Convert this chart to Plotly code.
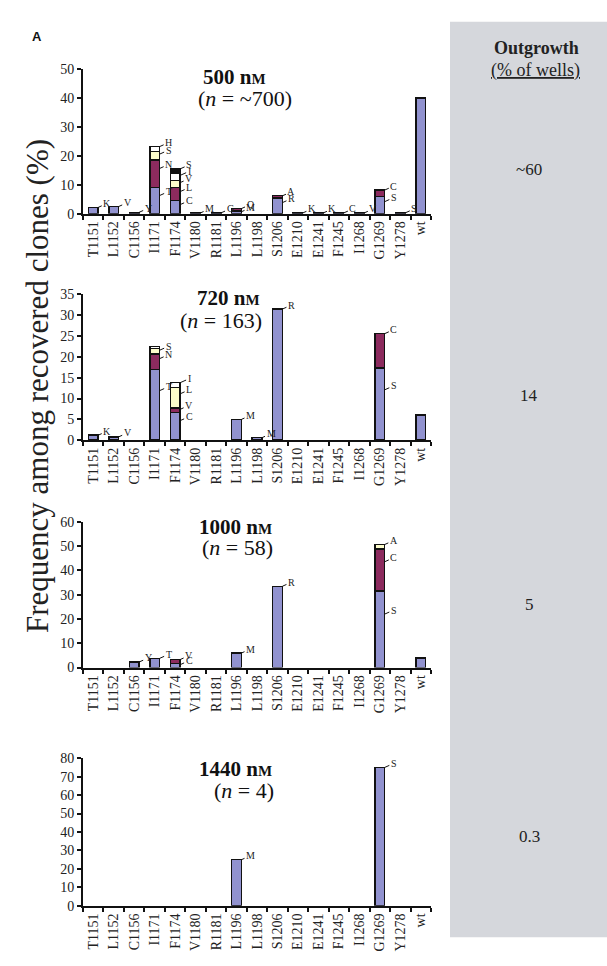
import plotly.graph_objects as go

# ---------------- data ----------------
categories = ["T1151", "L1152", "C1156", "I1171", "F1174", "V1180", "R1181", "L1196",
              "L1198", "S1206", "E1210", "E1241", "F1245", "I1268", "G1269", "Y1278", "wt"]

panel_titles = ["500 n<span style='font-size:15px'>M</span>",
                "720 n<span style='font-size:15px'>M</span>",
                "1000 n<span style='font-size:15px'>M</span>",
                "1440 n<span style='font-size:15px'>M</span>"]
panel_counts = ["(<i>n</i> = ~700)", "(<i>n</i> = 163)", "(<i>n</i> = 58)", "(<i>n</i> = 4)"]
outgrowth = ["~60", "14", "5", "0.3"]
y_max = [50, 35, 60, 80]
y_step = [10, 5, 10, 10]

N = None
# stack layers per panel (bottom -> top); values in % of recovered clones
p500_l0 = [2.2, 2.5, 0.5, 9.0, 4.5, 0.3, 0.3, 1.0, N, 5.5, 0.3, 0.3, 0.3, 0.3, 6.0, 0.3, 40.0]
p500_l0_lab = ["K", "V", "Y", "T", "C", "M", "G", "M", "", "R", "K", "K", "C", "V", "S", "S", ""]
p500_l1 = [N, N, N, 9.5, 4.5, N, N, 0.8, N, 0.7, N, N, N, N, 2.2, N, N]
p500_l1_lab = ["", "", "", "N", "L", "", "", "Q", "", "A", "", "", "", "", "C", "", ""]
p500_l2 = [N, N, N, 3.0, 2.5, N, N, N, N, N, N, N, N, N, N, N, N]
p500_l2_lab = ["", "", "", "S", "V", "", "", "", "", "", "", "", "", "", "", "", ""]
p500_l3 = [N, N, N, 1.7, 2.5, N, N, N, N, N, N, N, N, N, N, N, N]
p500_l3_lab = ["", "", "", "H", "I", "", "", "", "", "", "", "", "", "", "", "", ""]
p500_l4 = [N, N, N, N, 1.5, N, N, N, N, N, N, N, N, N, N, N, N]
p500_l4_lab = ["", "", "", "", "S", "", "", "", "", "", "", "", "", "", "", "", ""]

p720_l0 = [1.2, 0.8, N, 17.0, 6.7, N, N, 5.0, 0.6, 31.5, N, N, N, N, 17.3, N, 6.0]
p720_l0_lab = ["K", "V", "", "T", "C", "", "", "M", "M", "R", "", "", "", "", "S", "", ""]
p720_l1 = [N, N, N, 3.7, 1.0, N, N, N, N, N, N, N, N, N, 8.3, N, N]
p720_l1_lab = ["", "", "", "N", "V", "", "", "", "", "", "", "", "", "", "C", "", ""]
p720_l2 = [N, N, N, 1.3, 4.9, N, N, N, N, N, N, N, N, N, N, N, N]
p720_l2_lab = ["", "", "", "S", "L", "", "", "", "", "", "", "", "", "", "", "", ""]
p720_l3 = [N, N, N, 0.5, 1.2, N, N, N, N, N, N, N, N, N, N, N, N]
p720_l3_lab = ["", "", "", "", "I", "", "", "", "", "", "", "", "", "", "", "", ""]

p1000_l0 = [N, N, 2.3, 3.8, 1.7, N, N, 6.0, N, 33.5, N, N, N, N, 31.5, N, 4.0]
p1000_l0_lab = ["", "", "Y", "T", "C", "", "", "M", "", "R", "", "", "", "", "S", "", ""]
p1000_l1 = [N, N, N, N, 1.6, N, N, N, N, N, N, N, N, N, 17.3, N, N]
p1000_l1_lab = ["", "", "", "", "V", "", "", "", "", "", "", "", "", "", "C", "", ""]
p1000_l2 = [N, N, N, N, N, N, N, N, N, N, N, N, N, N, 1.9, N, N]
p1000_l2_lab = ["", "", "", "", "", "", "", "", "", "", "", "", "", "", "A", "", ""]

p1440_l0 = [N, N, N, N, N, N, N, 25.0, N, N, N, N, N, N, 75.0, N, N]
p1440_l0_lab = ["", "", "", "", "", "", "", "M", "", "", "", "", "", "", "S", "", ""]

panels = [
    [(p500_l0, p500_l0_lab), (p500_l1, p500_l1_lab), (p500_l2, p500_l2_lab),
     (p500_l3, p500_l3_lab), (p500_l4, p500_l4_lab)],
    [(p720_l0, p720_l0_lab), (p720_l1, p720_l1_lab), (p720_l2, p720_l2_lab),
     (p720_l3, p720_l3_lab)],
    [(p1000_l0, p1000_l0_lab), (p1000_l1, p1000_l1_lab), (p1000_l2, p1000_l2_lab)],
    [(p1440_l0, p1440_l0_lab)],
]

# ---------------- style ----------------
W, H = 607, 966
LAYER_COLORS = ["#9192cf", "#8c2b5e", "#fcfccb", "#ffffff", "#111111"]
SERIF = "Liberation Serif, Times New Roman, serif"
x_dom = [83 / W, 431 / W]
# (zero pixel, top pixel) of each panel's y axis
y_px = [(210, 63), (440, 292), (671, 523), (913, 763)]
title_px = [(234, 71, 245, 93), (228, 296, 221, 318), (235, 528, 237, 549), (235, 774, 244, 796)]
out_px = [165, 395, 607, 843]

fig = go.Figure()
annotations = []
shapes = []

# gray outgrowth panel
shapes.append(dict(type="rect", xref="paper", yref="paper", x0=450 / W, x1=1.0,
                   y0=1 - 945 / H, y1=1 - 15 / H, fillcolor="#d5d7dc", line=dict(width=0),
                   layer="below"))

BAR_W = 0.47
for p, layers in enumerate(panels):
    xa = "x" if p == 0 else f"x{p + 1}"
    ya = "y" if p == 0 else f"y{p + 1}"
    base = [0.0] * len(categories)
    for li, (vals, labs) in enumerate(layers):
        fig.add_trace(go.Bar(x=categories, y=vals, xaxis=xa, yaxis=ya, width=BAR_W,
                             marker=dict(color=LAYER_COLORS[li], line=dict(color="#111111", width=1.4)),
                             showlegend=False, hoverinfo="skip"))
        for ci, (v, lab) in enumerate(zip(vals, labs)):
            if v is None:
                continue
            top = base[ci] + v
            is_top = all((layers[k][0][ci] is None) for k in range(li + 1, len(layers)))
            if lab:
                ypt = top if is_top else top - 0.3 * v
                annotations.append(dict(x=categories[ci], y=ypt, xref=xa, yref=ya, text=lab,
                                        showarrow=True, arrowhead=0, arrowwidth=1, arrowcolor="#111111",
                                        ax=9, ay=-4, xshift=5, standoff=0,
                                        font=dict(family=SERIF, size=10, color="#222222")))
            base[ci] = top

    z, t = y_px[p]
    ydom = [1 - z / H, 1 - t / H]
    xkey = "xaxis" if p == 0 else f"xaxis{p + 1}"
    ykey = "yaxis" if p == 0 else f"yaxis{p + 1}"
    fig.update_layout(**{
        xkey: dict(domain=x_dom, anchor=ya, type="category", categoryorder="array",
                   categoryarray=categories, range=[-0.5, len(categories) - 0.5],
                   tickson="boundaries", ticks="outside", ticklen=4, tickwidth=1.5,
                   tickcolor="#111111", showline=True, linewidth=2, linecolor="#111111",
                   tickangle=-90, tickfont=dict(family=SERIF, size=14, color="#222222"),
                   showgrid=False, zeroline=False, fixedrange=True),
        ykey: dict(domain=ydom, anchor=xa, range=[0, y_max[p]], dtick=y_step[p], tick0=0,
                   ticks="outside", ticklen=4, tickwidth=1.5, tickcolor="#111111",
                   showline=True, linewidth=2, linecolor="#111111",
                   tickfont=dict(family=SERIF, size=14, color="#222222"),
                   showgrid=False, zeroline=False, fixedrange=True),
    })

    tx1, ty1, tx2, ty2 = title_px[p]
    annotations.append(dict(x=tx1 / W, y=1 - ty1 / H, xref="paper", yref="paper",
                            xanchor="center", yanchor="middle",
                            text="<b>" + panel_titles[p] + "</b>", showarrow=False,
                            font=dict(family=SERIF, size=21, color="#111111")))
    annotations.append(dict(x=tx2 / W, y=1 - ty2 / H, xref="paper", yref="paper",
                            xanchor="center", yanchor="middle",
                            text=panel_counts[p], showarrow=False,
                            font=dict(family=SERIF, size=22, color="#111111")))
    annotations.append(dict(x=529 / W, y=1 - out_px[p] / H, xref="paper", yref="paper",
                            xanchor="center", yanchor="middle",
                            text=outgrowth[p], showarrow=False,
                            font=dict(family=SERIF, size=17, color="#222222")))

annotations += [
    dict(x=536 / W, y=1 - 42 / H, xref="paper", yref="paper", text="<b>Outgrowth</b>",
         xanchor="center", yanchor="middle",
         showarrow=False, font=dict(family=SERIF, size=18, color="#222222")),
    dict(x=535 / W, y=1 - 65 / H, xref="paper", yref="paper", text="<u>(% of wells)</u>",
         xanchor="center", yanchor="middle",
         showarrow=False, font=dict(family=SERIF, size=18, color="#222222")),
    dict(x=37 / W, y=1 - 385 / H, xref="paper", yref="paper",
         xanchor="center", yanchor="middle",
         text="Frequency among recovered clones (%)", textangle=-90, showarrow=False,
         font=dict(family=SERIF, size=31, color="#222222")),
    dict(x=37 / W, y=1 - 30 / H, xref="paper", yref="paper", text="<b>A</b>",
         xanchor="center", yanchor="middle",
         showarrow=False, font=dict(family="Liberation Sans, Arial, sans-serif", size=13, color="#111111")),
]

fig.update_layout(width=W, height=H, margin=dict(l=0, r=0, t=0, b=0),
                  paper_bgcolor="white", plot_bgcolor="white", barmode="stack",
                  annotations=annotations, shapes=shapes, showlegend=False)

fig.write_html("out.html", config={"displayModeBar": False},
               post_script="document.body.style.margin='0';document.body.style.overflow='hidden';")
